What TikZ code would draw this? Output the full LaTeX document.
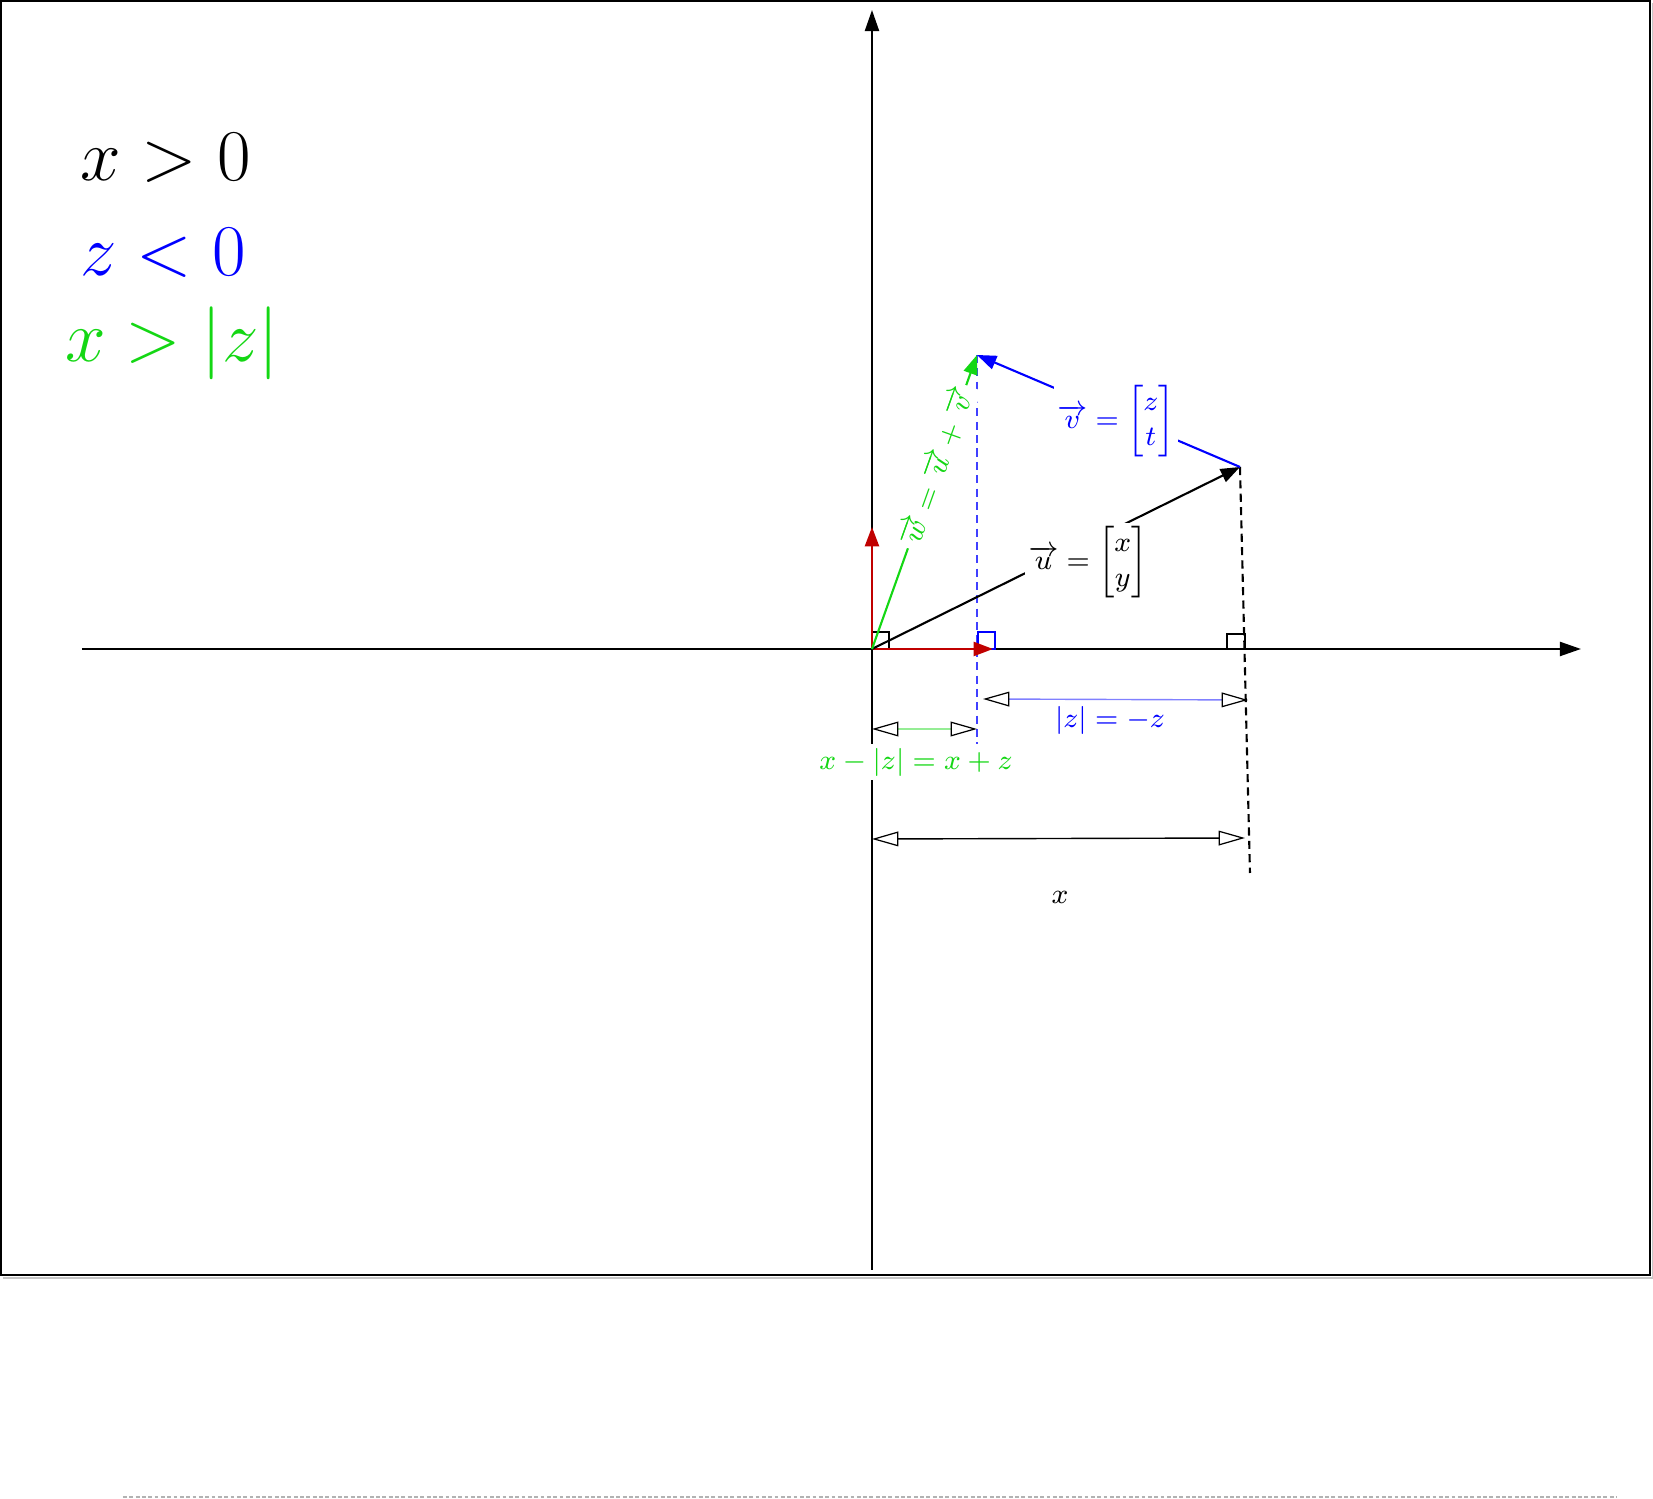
\documentclass[tikz,border=0pt]{standalone}
\usepackage{amsmath}
\usepackage{amssymb}
\usepackage{tikz}
\usepackage{xcolor}
\usetikzlibrary{arrows.meta}
\definecolor{vec-red}{RGB}{192,0,0}
\definecolor{vec-green}{RGB}{20,215,20}
\tikzset{
    axis-arrow/.style = {semithick, -{Triangle[length=6pt, width=4pt]}},
    vec-arrow/.style = {semithick, -{Triangle[length=5.5pt, width=4pt]}},
    dim-arrow/.style = {thin, {Triangle[length=7.5pt, width=4.2pt, color=black, fill=white, line width=0.35pt]}-{Triangle[length=7.5pt, width=4.2pt, color=black, fill=white, line width=0.35pt]}},
    foot-line/.style = {dash pattern=on 2.3pt off 1.5pt},
    small-label/.style = {font=\fontsize{8.5}{10}\selectfont, fill=white, inner sep=1pt},
    big-label/.style = {font=\huge, anchor=base},
}

\begin{document}
\begin{tikzpicture}
\useasboundingbox (-8.72,-8.50) rectangle (7.81,6.49);
\draw[gray!45, thick] (-8.69,-6.29) -- (7.81,-6.29) -- (7.81,6.46);
\draw[thick] (-8.71,-6.26) rectangle (7.78,6.48);
\draw[gray!60, line width=0.6pt, dash pattern=on 1.1pt off 0.7pt] (-7.49,-8.48) -- (7.45,-8.48);

\coordinate (O) at (0,0);
\coordinate (U) at (3.68,1.82);
\coordinate (W) at (1.05,2.94);
\coordinate (U-foot) at (3.78,-2.24);
\coordinate (W-foot) at (1.05,-0.99);
\coordinate (x-left) at (-7.90,0);
\coordinate (x-right) at (7.09,0);
\coordinate (y-bottom) at (0,-6.21);
\coordinate (y-top) at (0,6.39);

\node[big-label] (cond-x) at (-7.06,4.68) {$x > 0$};
\node[big-label, text=blue] (cond-z) at (-7.09,3.73) {$z < 0$};
\node[big-label, text=vec-green] (cond-xz) at (-7.00,2.87) {$x > |z|$};

\draw[semithick, foot-line] (U) -- (U-foot);
\draw[blue!75, thin, foot-line] (W) -- (W-foot);

\draw[axis-arrow] (x-left) -- (x-right);
\draw[axis-arrow] (y-bottom) -- (y-top);

\draw[semithick] (O) rectangle ++(0.17,0.17);
\draw[blue, semithick] (1.06,0) rectangle ++(0.17,0.17);
\draw[semithick] (3.55,0) rectangle ++(0.18,0.15);

\draw[vec-arrow, vec-red] (O) -- (0,1.22);
\draw[vec-arrow, vec-red] (O) -- (1.21,0);
\draw[vec-arrow] (O) -- (U);
\draw[vec-arrow, blue] (U) -- (W);
\draw[vec-arrow, vec-green] (O) -- (W)
    node[small-label, pos=0.62, sloped, text=vec-green] (w-label) {$\overrightarrow{w} = \overrightarrow{u} + \overrightarrow{v}$};

\node[small-label] (u-label) at (2.16,0.87) {$\overrightarrow{u} = \begin{bmatrix} x \\ y \end{bmatrix}$};
\node[small-label, text=blue] (v-label) at (2.44,2.28) {$\overrightarrow{v} = \begin{bmatrix} z \\ t \end{bmatrix}$};

\draw[dim-arrow, blue!50] (1.11,-0.50) -- (3.76,-0.51);
\node[small-label, text=blue] (z-label) at (2.38,-0.71) {$|z| = -z$};
\draw[dim-arrow, vec-green!45] (0,-0.80) -- (1.05,-0.80);
\node[small-label, text=vec-green] (xz-label) at (0.44,-1.13) {$x - |z| = x + z$};
\draw[dim-arrow] (0,-1.90) -- (3.73,-1.89);
\node[small-label] (x-label) at (1.88,-2.48) {$x$};
\end{tikzpicture}
\end{document}
